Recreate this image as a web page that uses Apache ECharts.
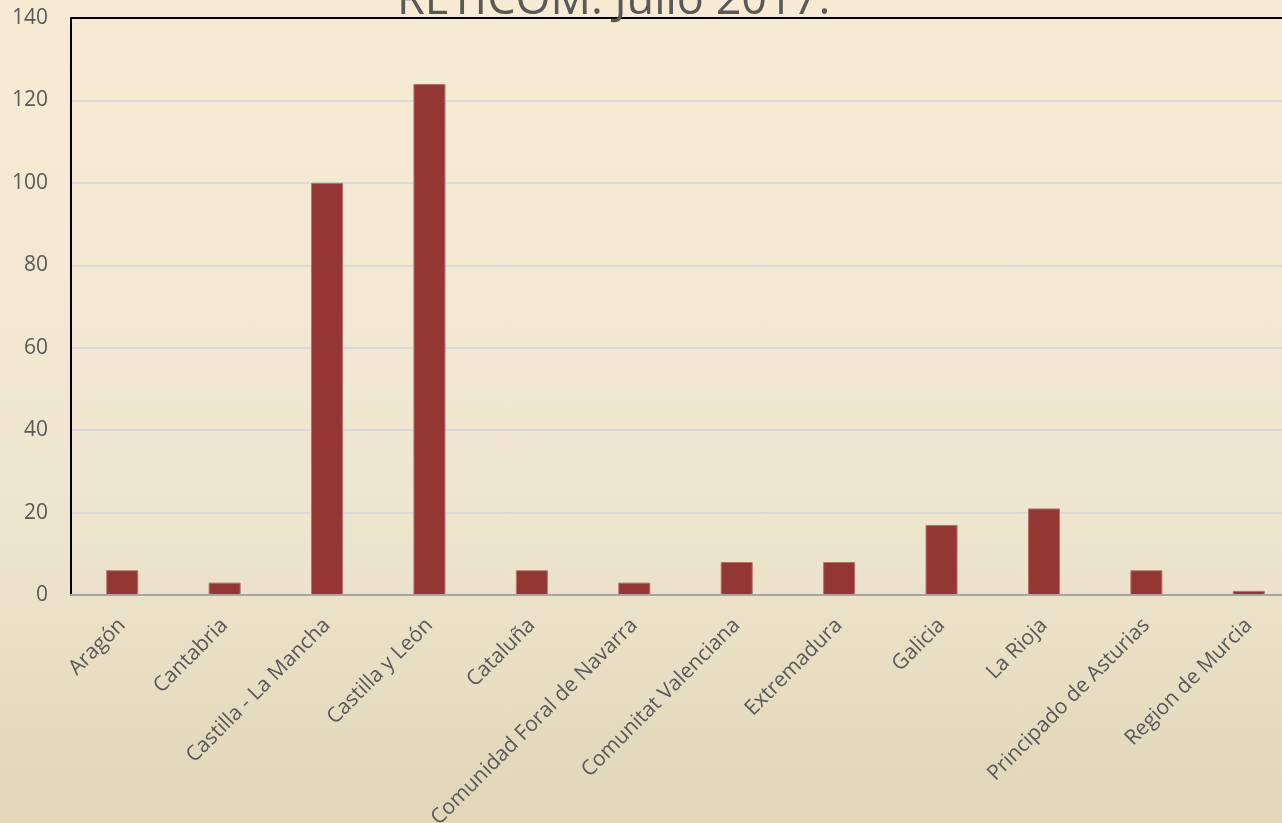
<!DOCTYPE html>
<html>
<head>
<meta charset="utf-8">
<script src="https://cdn.jsdelivr.net/npm/echarts@6/dist/echarts.min.js"></script>
<style>
html, body { margin: 0; padding: 0; }
#chart { width: 1282px; height: 823px;
  background: linear-gradient(to bottom, #f8ebd3 0%, #efe6cf 60%, #e0d7b9 100%); }
</style>
</head>
<body>
<div id="chart"></div>
<script>
// datos del gráfico
var regiones = ["Aragón", "Cantabria", "Castilla - La Mancha", "Castilla y León",
                "Cataluña", "Comunidad Foral de Navarra", "Comunitat Valenciana",
                "Extremadura", "Galicia", "La Rioja", "Principado de Asturias",
                "Region de Murcia"];
var valores = [6, 3, 100, 124, 6, 3, 8, 8, 17, 21, 6, 1];
var yTicks = [0, 20, 40, 60, 80, 100, 120, 140];
var titulo = "RETICOM. Julio 2017.";

var myChart = echarts.init(document.getElementById('chart'));
var option = {
    backgroundColor: 'transparent',
    textStyle: { fontFamily: 'Open Sans' },
    title: {
        text: titulo,
        left: 392,
        top: -26,
        textStyle: {
            color: '#595959',
            fontSize: 45,
            fontWeight: 'normal',
            fontFamily: 'Open Sans'
        }
    },
    grid: {
        left: 71,
        top: 18,
        right: -18,
        bottom: 228,
        outerBoundsMode: 'none',
        containLabel: false,
        show: true,
        borderColor: '#000',
        borderWidth: 2,
        backgroundColor: 'transparent'
    },
    xAxis: {
        type: 'category',
        data: regiones,
        z: 5,
        axisLine: { lineStyle: { color: '#a6a6a6', width: 2 } },
        axisTick: { show: false },
        axisLabel: {
            interval: 0,
            rotate: 45,
            margin: 27,
            color: '#595959',
            fontSize: 21,
            fontFamily: 'Open Sans'
        }
    },
    yAxis: {
        type: 'value',
        min: yTicks[0],
        max: yTicks[yTicks.length - 1],
        interval: 20,
        axisLine: { show: true, lineStyle: { color: '#000', width: 2 } },
        axisTick: { show: false },
        splitLine: {
            showMinLine: false,
            showMaxLine: false,
            lineStyle: { color: '#d9d9d9', width: 2 }
        },
        axisLabel: {
            margin: 23,
            color: '#595959',
            fontSize: 21,
            fontFamily: 'Open Sans'
        }
    },
    series: [{
        type: 'bar',
        data: valores,
        barWidth: 32,
        itemStyle: {
            color: '#943634',
            borderColor: '#b96f6d',
            borderWidth: 1
        }
    }]
};
myChart.setOption(option);
</script>
</body>
</html>
